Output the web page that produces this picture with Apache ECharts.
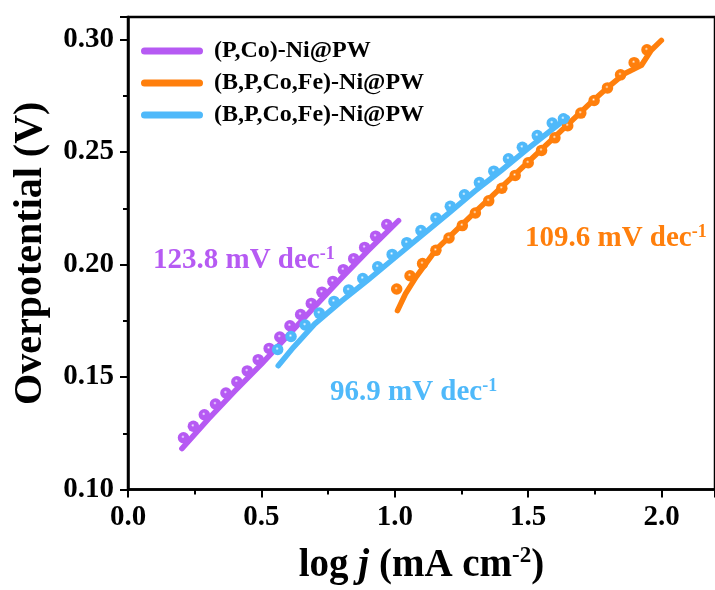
<!DOCTYPE html>
<html>
<head>
<meta charset="utf-8">
<script src="https://cdn.jsdelivr.net/npm/echarts@6/dist/echarts.min.js"></script>
<style>html,body{margin:0;padding:0;background:#fff;}#c{width:715px;height:590px;}</style>
</head>
<body>
<div id="c"></div>
<script>
const seriesNames = ['(P,Co)-Ni@PW', '(B,P,Co,Fe)-Ni@PW', '(B,P,Co,Fe)-Ni@PW '];
const colors = ['#B65AF3', '#FF7F0C', '#4FB9FA'];
const xTicks = [0, 0.5, 1.0, 1.5, 2.0];
const yTicks = [0.10, 0.15, 0.20, 0.25, 0.30];

// (P,Co)-Ni@PW
const pcoDots = [[0.208,0.1230],[0.245,0.1281],[0.286,0.1332],[0.328,0.1380],[0.367,0.1429],[0.408,0.1479],[0.447,0.1527],[0.488,0.1577],[0.529,0.1627],[0.569,0.1678],[0.607,0.1728],[0.647,0.1778],[0.687,0.1827],[0.727,0.1877],[0.768,0.1925],[0.807,0.1977],[0.846,0.2026],[0.887,0.2076],[0.928,0.2126],[0.970,0.2178]];
const pcoLine = [[0.202,0.1182],[0.30,0.1312],[0.40,0.1437],[0.50,0.1557],[0.60,0.1685],[0.70,0.1813],[0.80,0.1940],[0.90,0.2062],[1.014,0.2195]];
// (B,P,Co,Fe)-Ni@PW (orange)
const orangeDots = [[1.007,0.1891],[1.057,0.1950],[1.104,0.2004],[1.154,0.2063],[1.203,0.2118],[1.253,0.2173],[1.302,0.2229],[1.352,0.2283],[1.401,0.2339],[1.451,0.2396],[1.500,0.2452],[1.550,0.2507],[1.600,0.2563],[1.648,0.2617],[1.697,0.2673],[1.747,0.2729],[1.797,0.2785],[1.846,0.2843],[1.897,0.2897],[1.945,0.2954]];
const orangeLine = [[1.010,0.1795],[1.040,0.1870],[1.080,0.1945],[1.156,0.2068],[1.300,0.2232],[1.450,0.2400],[1.600,0.2568],[1.738,0.2723],[1.801,0.2790],[1.862,0.2849],[1.924,0.2885],[1.961,0.2952],[1.999,0.2996]];
// (B,P,Co,Fe)-Ni@PW (blue)
const blueDots = [[0.561,0.1622],[0.611,0.1680],[0.664,0.1731],[0.717,0.1784],[0.772,0.1836],[0.827,0.1887],[0.880,0.1938],[0.936,0.1990],[0.990,0.2045],[1.045,0.2097],[1.098,0.2151],[1.154,0.2207],[1.208,0.2259],[1.261,0.2310],[1.317,0.2364],[1.371,0.2415],[1.426,0.2470],[1.478,0.2521],[1.534,0.2573],[1.590,0.2629],[1.632,0.2648]];
const blueLine = [[0.563,0.1550],[0.62,0.1632],[0.70,0.1736],[0.80,0.1837],[0.90,0.1932],[1.00,0.2030],[1.10,0.2128],[1.20,0.2226],[1.30,0.2326],[1.40,0.2419],[1.50,0.2516],[1.60,0.2610],[1.646,0.2652]];

const slopeLabels = ['123.8 mV dec', '109.6 mV dec', '96.9 mV dec'];

const FONT = "'Liberation Serif','Times New Roman',serif";

function ball(c, light) {
  return {
    type: 'radial', x: 0.45, y: 0.42, r: 0.5,
    colorStops: [
      {offset: 0, color: '#ffffff'},
      {offset: 0.1, color: light},
      {offset: 0.3, color: c},
      {offset: 1, color: c}
    ]
  };
}
const lights = ['#e2bcff', '#ffc690', '#bfe8ff'];

const lineSets = [pcoLine, orangeLine, blueLine];
const dotSets = [pcoDots, orangeDots, blueDots];

const series = [];
for (let i = 0; i < 3; i++) {
  series.push({
    name: seriesNames[i], type: 'line', data: lineSets[i], symbol: 'none', smooth: false,
    lineStyle: {color: colors[i], width: 5.5, cap: 'round', join: 'round'},
    itemStyle: {color: colors[i]}, z: 2
  });
}
for (let i = 0; i < 3; i++) {
  series.push({
    name: 'dots' + i, type: 'scatter', data: dotSets[i], symbolSize: 11.5,
    itemStyle: {color: ball(colors[i], lights[i]), opacity: 1}, z: 3
  });
}

const supStyle = (c) => ({fontFamily: FONT, fontWeight: 'bold', fontSize: 18, fill: c, color: c, padding: [0, 0, 14, 0]});
const mainStyle = (c) => ({fontFamily: FONT, fontWeight: 'bold', fontSize: 29, fill: c, color: c});

function slopeText(label, c, left, top) {
  return {
    type: 'text', left: left, top: top, z: 10,
    style: {
      text: '{m|' + label + '}{s|-1}',
      fill: c,
      rich: {m: mainStyle(c), s: supStyle(c)}
    }
  };
}

const chart = echarts.init(document.getElementById('c'), null, {renderer: 'canvas'});
chart.setOption({
  animation: false,
  backgroundColor: '#fff',
  grid: {left: 128, top: 17, width: 592, bottom: 97, show: true, borderColor: '#000', borderWidth: 2.5, backgroundColor: 'transparent'},
  legend: {
    data: seriesNames, left: 136, top: 34, orient: 'vertical', itemGap: 8,
    itemWidth: 62, itemHeight: 7,
    icon: 'path://M3.5,0 H58.5 A3.5,3.5 0 0 1 58.5,7 H3.5 A3.5,3.5 0 0 1 3.5,0 Z',
    formatter: (n) => n.trim(),
    textStyle: {fontFamily: FONT, fontWeight: 'bold', fontSize: 24, color: '#000', lineHeight: 23, padding: [0, 0, 0, 6]}
  },
  xAxis: {
    type: 'value', min: 0, max: 2.2, interval: 0.5,
    name: '{a|log }{i|j}{a| (mA cm}{s|-2}{a|)}',
    nameLocation: 'middle', nameGap: 55,
    nameTextStyle: {
      rich: {
        a: {fontFamily: FONT, fontWeight: 'bold', fontSize: 39, color: '#000'},
        i: {fontFamily: FONT, fontWeight: 'bold', fontStyle: 'italic', fontSize: 39, color: '#000'},
        s: {fontFamily: FONT, fontWeight: 'bold', fontSize: 23, color: '#000', padding: [0, 0, 19, 0]}
      }
    },
    axisLine: {lineStyle: {color: '#000', width: 2.5}},
    axisTick: {length: 8, lineStyle: {color: '#000', width: 2}},
    minorTick: {show: true, splitNumber: 2, length: 5, lineStyle: {color: '#000', width: 2}},
    splitLine: {show: false},
    axisLabel: {fontFamily: FONT, fontWeight: 'bold', fontSize: 29, color: '#000', margin: 14, showMaxLabel: false,
      formatter: (v) => v.toFixed(1)}
  },
  yAxis: {
    type: 'value', min: 0.10, max: 0.31, interval: 0.05,
    name: 'Overpotential (V)', nameLocation: 'middle', nameGap: 77,
    nameTextStyle: {fontFamily: FONT, fontWeight: 'bold', fontSize: 40, color: '#000'},
    axisLine: {lineStyle: {color: '#000', width: 2.5}},
    axisTick: {length: 8, lineStyle: {color: '#000', width: 2}},
    minorTick: {show: true, splitNumber: 2, length: 5, lineStyle: {color: '#000', width: 2}},
    splitLine: {show: false},
    axisLabel: {fontFamily: FONT, fontWeight: 'bold', fontSize: 29, color: '#000', margin: 14, showMaxLabel: false,
      formatter: (v) => v.toFixed(2)}
  },
  graphic: [
    slopeText(slopeLabels[0], colors[0], 153, 245),
    slopeText(slopeLabels[1], colors[1], 525, 223),
    slopeText(slopeLabels[2], colors[2], 330, 377)
  ],
  series: series
});
</script>
</body>
</html>
